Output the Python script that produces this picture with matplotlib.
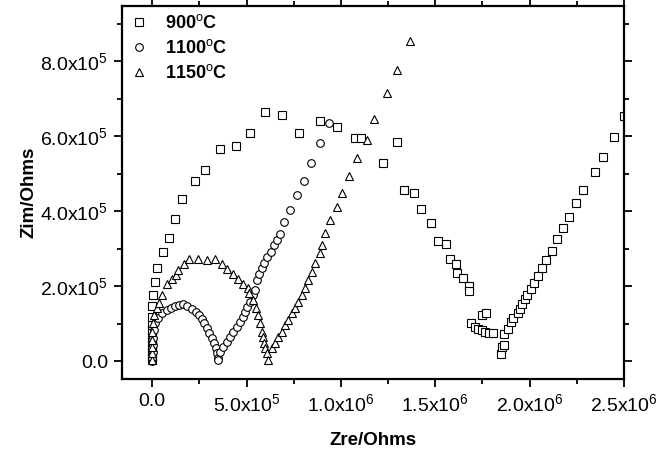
import matplotlib
matplotlib.use('Agg')
import matplotlib.pyplot as plt
from matplotlib.ticker import FixedLocator, MultipleLocator

plt.rcParams['font.family'] = ['Liberation Sans', 'DejaVu Sans']
plt.rcParams['mathtext.fontset'] = 'custom'
plt.rcParams['mathtext.rm'] = 'Liberation Sans'
plt.rcParams['mathtext.it'] = 'Liberation Sans:italic'
plt.rcParams['mathtext.bf'] = 'Liberation Sans:bold'

# 900 C
zre_900 = [0, 0, 0, 0, 0, 0, 0, 0, 0, 1e3, 5e3, 1.6e4, 2.6e4, 5.8e4, 9.0e4, 1.22e5, 1.59e5,
           2.28e5, 2.81e5, 3.60e5, 4.45e5, 5.19e5, 5.99e5, 6.89e5, 7.79e5, 8.90e5, 9.80e5,
           1.075e6, 1.107e6, 1.224e6, 1.298e6, 1.335e6, 1.388e6, 1.425e6, 1.478e6, 1.515e6,
           1.557e6, 1.578e6, 1.610e6, 1.616e6, 1.647e6, 1.679e6, 1.679e6, 1.748e6, 1.769e6,
           1.690e6, 1.711e6, 1.727e6, 1.748e6, 1.764e6, 1.785e6, 1.806e6,
           1.849e6, 1.854e6, 1.864e6, 1.864e6, 1.886e6, 1.902e6, 1.912e6, 1.939e6, 1.949e6,
           1.960e6, 1.976e6, 1.986e6, 2.007e6, 2.023e6, 2.045e6, 2.066e6, 2.087e6, 2.119e6,
           2.145e6, 2.177e6, 2.209e6, 2.246e6, 2.283e6, 2.346e6, 2.389e6, 2.447e6, 2.500e6]
zim_900 = [3e3, 1.3e4, 2.4e4, 3.7e4, 5.1e4, 6.4e4, 8.0e4, 9.6e4, 1.17e5, 1.47e5, 1.76e5, 2.11e5,
           2.48e5, 2.91e5, 3.28e5, 3.79e5, 4.32e5, 4.80e5, 5.09e5, 5.65e5, 5.73e5, 6.08e5,
           6.64e5, 6.56e5, 6.08e5, 6.40e5, 6.24e5, 5.95e5, 5.95e5, 5.28e5, 5.84e5, 4.56e5,
           4.48e5, 4.05e5, 3.68e5, 3.20e5, 3.12e5, 2.72e5, 2.59e5, 2.35e5, 2.21e5, 2.00e5,
           1.87e5, 1.23e5, 1.28e5, 1.01e5, 9.1e4, 8.5e4, 8.3e4, 7.7e4, 7.5e4, 7.5e4,
           1.9e4, 3.7e4, 4.3e4, 7.2e4, 8.5e4, 1.04e5, 1.15e5, 1.28e5, 1.39e5, 1.52e5, 1.65e5,
           1.76e5, 1.92e5, 2.08e5, 2.27e5, 2.48e5, 2.69e5, 2.93e5, 3.25e5, 3.55e5, 3.84e5,
           4.21e5, 4.56e5, 5.04e5, 5.44e5, 5.97e5, 6.53e5]

# 1100 C
zre_1100 = [0, 0, 5e3, 5e3, 5e3, 1.1e4, 1.6e4, 3.2e4, 5.3e4, 7.9e4, 1.01e5, 1.22e5, 1.43e5,
            1.64e5, 1.85e5, 2.12e5, 2.33e5, 2.49e5, 2.65e5, 2.75e5, 2.91e5, 3.02e5, 3.18e5,
            3.28e5, 3.39e5, 3.44e5, 3.50e5, 3.50e5, 3.60e5, 3.76e5, 3.97e5, 4.13e5, 4.29e5,
            4.50e5, 4.66e5, 4.82e5, 4.93e5, 5.03e5, 5.19e5, 5.35e5, 5.46e5, 5.56e5, 5.67e5,
            5.83e5, 5.93e5, 6.09e5, 6.30e5, 6.46e5, 6.62e5, 6.78e5, 6.99e5, 7.31e5, 7.68e5,
            8.05e5, 8.42e5, 8.90e5, 9.38e5]
zim_1100 = [0, 8e3, 2.4e4, 4.3e4, 6.1e4, 8.3e4, 1.01e5, 1.15e5, 1.28e5, 1.36e5, 1.41e5, 1.47e5,
            1.49e5, 1.52e5, 1.47e5, 1.39e5, 1.31e5, 1.23e5, 1.12e5, 1.01e5, 8.8e4, 7.5e4,
            6.1e4, 4.8e4, 3.5e4, 2.1e4, 8e3, 2e3, 2.4e4, 3.7e4, 5.1e4, 6.4e4, 7.7e4, 9.1e4,
            1.04e5, 1.17e5, 1.31e5, 1.44e5, 1.57e5, 1.76e5, 1.89e5, 2.16e5, 2.32e5, 2.48e5,
            2.61e5, 2.77e5, 2.91e5, 3.09e5, 3.23e5, 3.39e5, 3.71e5, 4.03e5, 4.43e5, 4.80e5,
            5.28e5, 5.81e5, 6.35e5]

# 1150 C
zre_1150 = [0, 0, 0, 0, 0, 5e3, 1.1e4, 2.6e4, 3.7e4, 5.3e4, 7.9e4, 1.06e5, 1.27e5, 1.38e5,
            1.69e5, 1.96e5, 2.44e5, 2.91e5, 3.34e5, 3.71e5, 3.97e5, 4.29e5, 4.56e5, 4.82e5,
            5.08e5, 5.14e5, 5.35e5, 5.51e5, 5.61e5, 5.72e5, 5.83e5, 5.88e5, 5.93e5, 5.99e5,
            6.09e5, 6.14e5, 6.36e5, 6.51e5, 6.67e5, 6.89e5, 7.04e5, 7.20e5, 7.42e5, 7.57e5,
            7.73e5, 7.94e5, 8.10e5, 8.26e5, 8.47e5, 8.63e5, 8.90e5, 9.00e5, 9.16e5, 9.43e5,
            9.80e5, 1.006e6, 1.043e6, 1.086e6, 1.139e6, 1.176e6, 1.245e6, 1.298e6, 1.367e6]
zim_1150 = [3e3, 2.1e4, 3.7e4, 5.6e4, 7.7e4, 1.01e5, 1.23e5, 1.41e5, 1.55e5, 1.76e5, 2.05e5,
            2.19e5, 2.29e5, 2.43e5, 2.59e5, 2.72e5, 2.72e5, 2.69e5, 2.72e5, 2.59e5, 2.45e5,
            2.32e5, 2.19e5, 2.05e5, 1.95e5, 1.81e5, 1.63e5, 1.41e5, 1.23e5, 1.01e5, 7.7e4,
            6.4e4, 4.8e4, 3.5e4, 2.1e4, 3e3, 3.5e4, 4.8e4, 6.4e4, 7.7e4, 9.6e4, 1.09e5, 1.28e5,
            1.41e5, 1.57e5, 1.76e5, 1.95e5, 2.16e5, 2.37e5, 2.61e5, 2.88e5, 3.09e5, 3.41e5,
            3.76e5, 4.11e5, 4.48e5, 4.93e5, 5.41e5, 5.89e5, 6.45e5, 7.15e5, 7.76e5, 8.53e5]

x_ticks = [0, 5e5, 1e6, 1.5e6, 2e6, 2.5e6]
x_labels = ['0.0', '5.0x10$^{5}$', '1.0x10$^{6}$', '1.5x10$^{6}$', '2.0x10$^{6}$', '2.5x10$^{6}$']
y_ticks = [0, 2e5, 4e5, 6e5, 8e5]
y_labels = ['0.0', '2.0x10$^{5}$', '4.0x10$^{5}$', '6.0x10$^{5}$', '8.0x10$^{5}$']

fig = plt.figure(figsize=(6.56, 4.53), dpi=100)
ax = fig.add_axes([0.186, 0.163, 0.765, 0.824])

mk = dict(linestyle='none', markerfacecolor='white', markeredgecolor='black',
          markeredgewidth=0.8)
ax.plot(zre_900, zim_900, marker='s', markersize=5.2, label='900$^{\\mathrm{o}}$C', **mk)
ax.plot(zre_1100, zim_1100, marker='o', markersize=5.5, label='1100$^{\\mathrm{o}}$C', **mk)
ax.plot(zre_1150, zim_1150, marker='^', markersize=6, label='1150$^{\\mathrm{o}}$C', **mk)

ax.set_xlim(-1.6e5, 2.5e6)
ax.set_ylim(-4.8e4, 9.47e5)

ax.xaxis.set_major_locator(FixedLocator(x_ticks))
ax.set_xticklabels(x_labels)
ax.xaxis.set_minor_locator(MultipleLocator(2.5e5))
ax.yaxis.set_major_locator(FixedLocator(y_ticks))
ax.set_yticklabels(y_labels)
ax.yaxis.set_minor_locator(MultipleLocator(1e5))

ax.tick_params(which='both', direction='out', top=True, right=True, labelsize=14, width=1.3)
ax.tick_params(which='major', length=6, pad=4)
ax.tick_params(which='minor', length=3.5)
for s in ax.spines.values():
    s.set_linewidth(1.6)

ax.set_xlabel('Zre/Ohms', fontsize=13.5, fontweight='bold', labelpad=12)
ax.set_ylabel('Zim/Ohms', fontsize=13.5, fontweight='bold', labelpad=2)

leg = ax.legend(loc='upper left', bbox_to_anchor=(0.0, 0.992), frameon=False,
                prop={'weight': 'bold', 'size': 13}, handletextpad=0.8, borderaxespad=0.0,
                borderpad=0.3, labelspacing=0.38, handlelength=1.3)

fig.savefig('out.png', dpi=100)
